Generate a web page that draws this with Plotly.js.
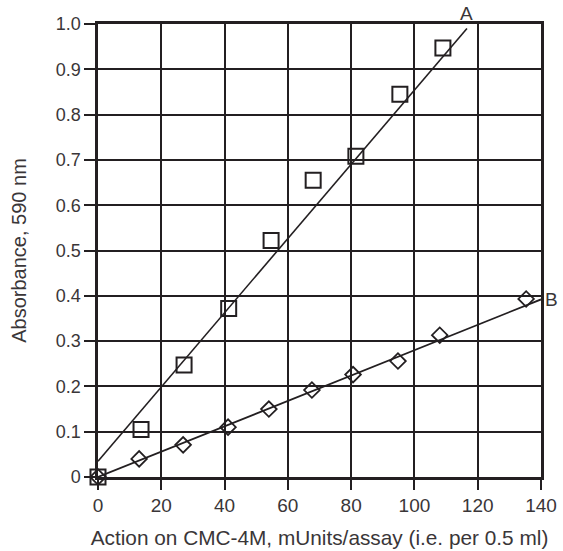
<!DOCTYPE html>
<html>
<head>
<meta charset="utf-8">
<script src="https://cdn.plot.ly/plotly-3.0.1.min.js"></script>
<style>html,body{margin:0;padding:0;background:#fff;}#chart{width:563px;height:551px;}</style>
</head>
<body>
<div id="chart"></div>
<script>
// Series A (squares)
const aX = [0, 13.6, 27.2, 41.3, 54.7, 68, 81.5, 95.4, 109];
const aY = [0, 0.105, 0.247, 0.372, 0.522, 0.655, 0.708, 0.845, 0.947];
// Series B (diamonds)
const bX = [0, 13, 26.9, 41.1, 54, 67.6, 80.6, 94.8, 108, 135.3];
const bY = [0, 0.040, 0.071, 0.11, 0.150, 0.192, 0.226, 0.256, 0.313, 0.393];
// Fitted lines
const fitAX = [0, 116.6];
const fitAY = [0.035, 0.99];
const fitBX = [0, 140];
const fitBY = [0, 0.392];
// Ticks
const xTicks = [0, 20, 40, 60, 80, 100, 120, 140];
const xTickText = ["0", "20", "40", "60", "80", "100", "120", "140"];
const yTicks = [0, 0.1, 0.2, 0.3, 0.4, 0.5, 0.6, 0.7, 0.8, 0.9, 1.0];
const yTickText = ["0", "0.1", "0.2", "0.3", "0.4", "0.5", "0.6", "0.7", "0.8", "0.9", "1.0"];
const seriesLabels = ["A", "B"];

const ink = "#231f21";
const traces = [
  {x: fitAX, y: fitAY, mode: "lines", line: {color: ink, width: 1.6}, hoverinfo: "skip", cliponaxis: false},
  {x: fitBX, y: fitBY, mode: "lines", line: {color: ink, width: 1.8}, hoverinfo: "skip", cliponaxis: false},
  {x: bX, y: bY, mode: "markers", cliponaxis: false,
   marker: {symbol: "diamond-open", size: 12, color: ink, line: {width: 1.8, color: ink}}},
  {x: aX, y: aY, mode: "markers", cliponaxis: false,
   marker: {symbol: "square-open", size: 15, color: ink, line: {width: 2, color: ink}}}
];

const fam = "Liberation Sans, Arial, sans-serif";
const txt = "#3a3638";
const layout = {
  width: 563, height: 551,
  margin: {l: 98, r: 22, t: 24, b: 74},
  paper_bgcolor: "#fff", plot_bgcolor: "#fff",
  showlegend: false,
  font: {family: fam, size: 18, color: txt},
  xaxis: {
    range: [0, 140], tickvals: xTicks, ticktext: xTickText,
    showgrid: true, gridcolor: ink, gridwidth: 2,
    showline: true, linecolor: ink, linewidth: 2.6, mirror: true,
    ticks: "outside", ticklen: 10, tickwidth: 2, tickcolor: ink,
    zeroline: false, tickfont: {family: fam, size: 19, color: txt},
    title: {text: "Action on CMC-4M, mUnits/assay (i.e. per 0.5 ml)", font: {family: fam, size: 20.8, color: txt}, standoff: 15}
  },
  yaxis: {
    range: [0, 1.0], tickvals: yTicks, ticktext: yTickText,
    showgrid: true, gridcolor: ink, gridwidth: 2,
    showline: true, linecolor: ink, linewidth: 2.6, mirror: true,
    ticks: "outside", ticklen: 11, tickwidth: 2, tickcolor: ink,
    zeroline: false, tickfont: {family: fam, size: 18, color: txt},
    title: {text: "Absorbance, 590 nm", font: {family: fam, size: 20, color: txt}, standoff: 24}
  },
  annotations: [
    {x: fitAX[1], y: 1.0, yshift: 11, text: seriesLabels[0], showarrow: false, xanchor: "center", yanchor: "middle", font: {family: fam, size: 19, color: txt}},
    {x: fitBX[1], y: fitBY[1], xshift: 2, text: seriesLabels[1], showarrow: false, xanchor: "left", yanchor: "middle", font: {family: fam, size: 19, color: txt}}
  ]
};
Plotly.newPlot("chart", traces, layout, {displayModeBar: false, staticPlot: true});
</script>
</body>
</html>
